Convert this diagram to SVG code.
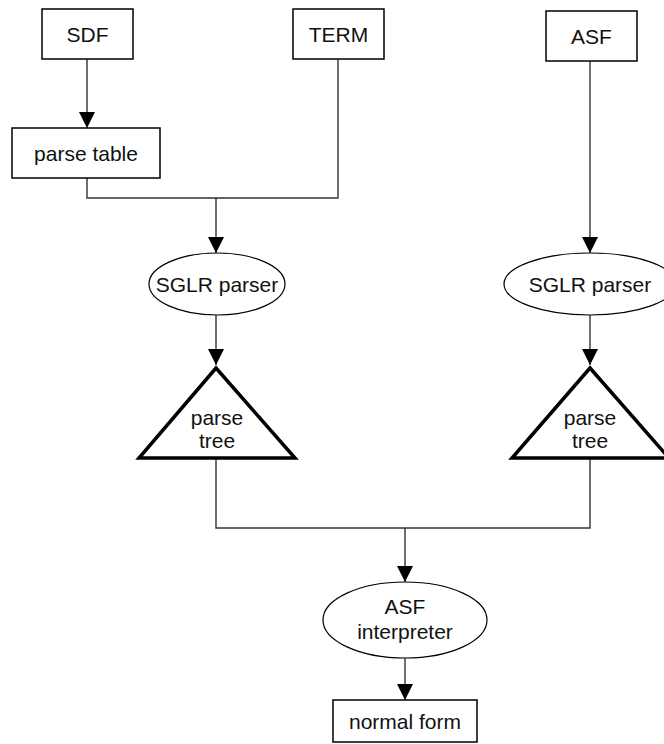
<svg xmlns="http://www.w3.org/2000/svg" width="664" height="744" viewBox="0 0 664 744">
<defs>
<marker id="arr" viewBox="0 0 10 10" refX="10" refY="5" markerWidth="16" markerHeight="16" markerUnits="userSpaceOnUse" orient="auto">
<path d="M0,0 L10,5 L0,10 z" fill="#000"/>
</marker>
<style>
.box{fill:#fff;stroke:#000;stroke-width:1.5}
.ell{fill:#fff;stroke:#000;stroke-width:1.2}
.tri{fill:#fff;stroke:#000;stroke-width:3.5;stroke-linejoin:miter}
.t{font-family:"Liberation Sans",Arial,sans-serif;font-size:21px;fill:#111;text-anchor:middle}
.c{fill:none;stroke:#333;stroke-width:1.4}
</style>
</defs>
<rect width="664" height="744" fill="#fff"/>
<g id="connectors">
<line class="c" x1="87" y1="59" x2="87" y2="128" marker-end="url(#arr)"/>
<polyline class="c" points="87,178 87,198 338,198 338,59"/>
<line class="c" x1="216" y1="198" x2="216" y2="253" marker-end="url(#arr)"/>
<line class="c" x1="590" y1="61" x2="590" y2="253" marker-end="url(#arr)"/>
<line class="c" x1="216" y1="315" x2="216" y2="365" marker-end="url(#arr)"/>
<line class="c" x1="590" y1="315" x2="590" y2="365" marker-end="url(#arr)"/>
<polyline class="c" points="216,458 216,528 590,528 590,458"/>
<line class="c" x1="405" y1="528" x2="405" y2="582" marker-end="url(#arr)"/>
<line class="c" x1="405" y1="658" x2="405" y2="700" marker-end="url(#arr)"/>
</g>
<g id="sdf"><rect class="box" x="42" y="9" width="91" height="50"/><text class="t" x="87.5" y="42">SDF</text></g>
<g id="term"><rect class="box" x="293" y="9" width="91" height="50"/><text class="t" x="338.5" y="42">TERM</text></g>
<g id="asf"><rect class="box" x="546" y="11" width="91" height="50"/><text class="t" x="591.5" y="44">ASF</text></g>
<g id="parse-table"><rect class="box" x="12" y="128" width="148" height="50"/><text class="t" x="86" y="161">parse table</text></g>
<g id="sglr-left"><ellipse class="ell" cx="217" cy="284" rx="68" ry="31"/><text class="t" x="217" y="292">SGLR parser</text></g>
<g id="sglr-right"><ellipse class="ell" cx="590" cy="284" rx="86" ry="31"/><text class="t" x="590" y="292">SGLR parser</text></g>
<g id="tree-left"><polygon class="tri" points="216,368 295,458 139,458"/><text class="t" x="217" y="425">parse</text><text class="t" x="217" y="448">tree</text></g>
<g id="tree-right"><polygon class="tri" points="590,368 669,458 512,458"/><text class="t" x="590" y="425">parse</text><text class="t" x="590" y="448">tree</text></g>
<g id="asf-interp"><ellipse class="ell" cx="405" cy="620" rx="82" ry="38"/><text class="t" x="405" y="614">ASF</text><text class="t" x="405" y="639">interpreter</text></g>
<g id="normal-form"><rect class="box" x="333" y="700" width="144" height="42"/><text class="t" x="405" y="729">normal form</text></g>
</svg>
